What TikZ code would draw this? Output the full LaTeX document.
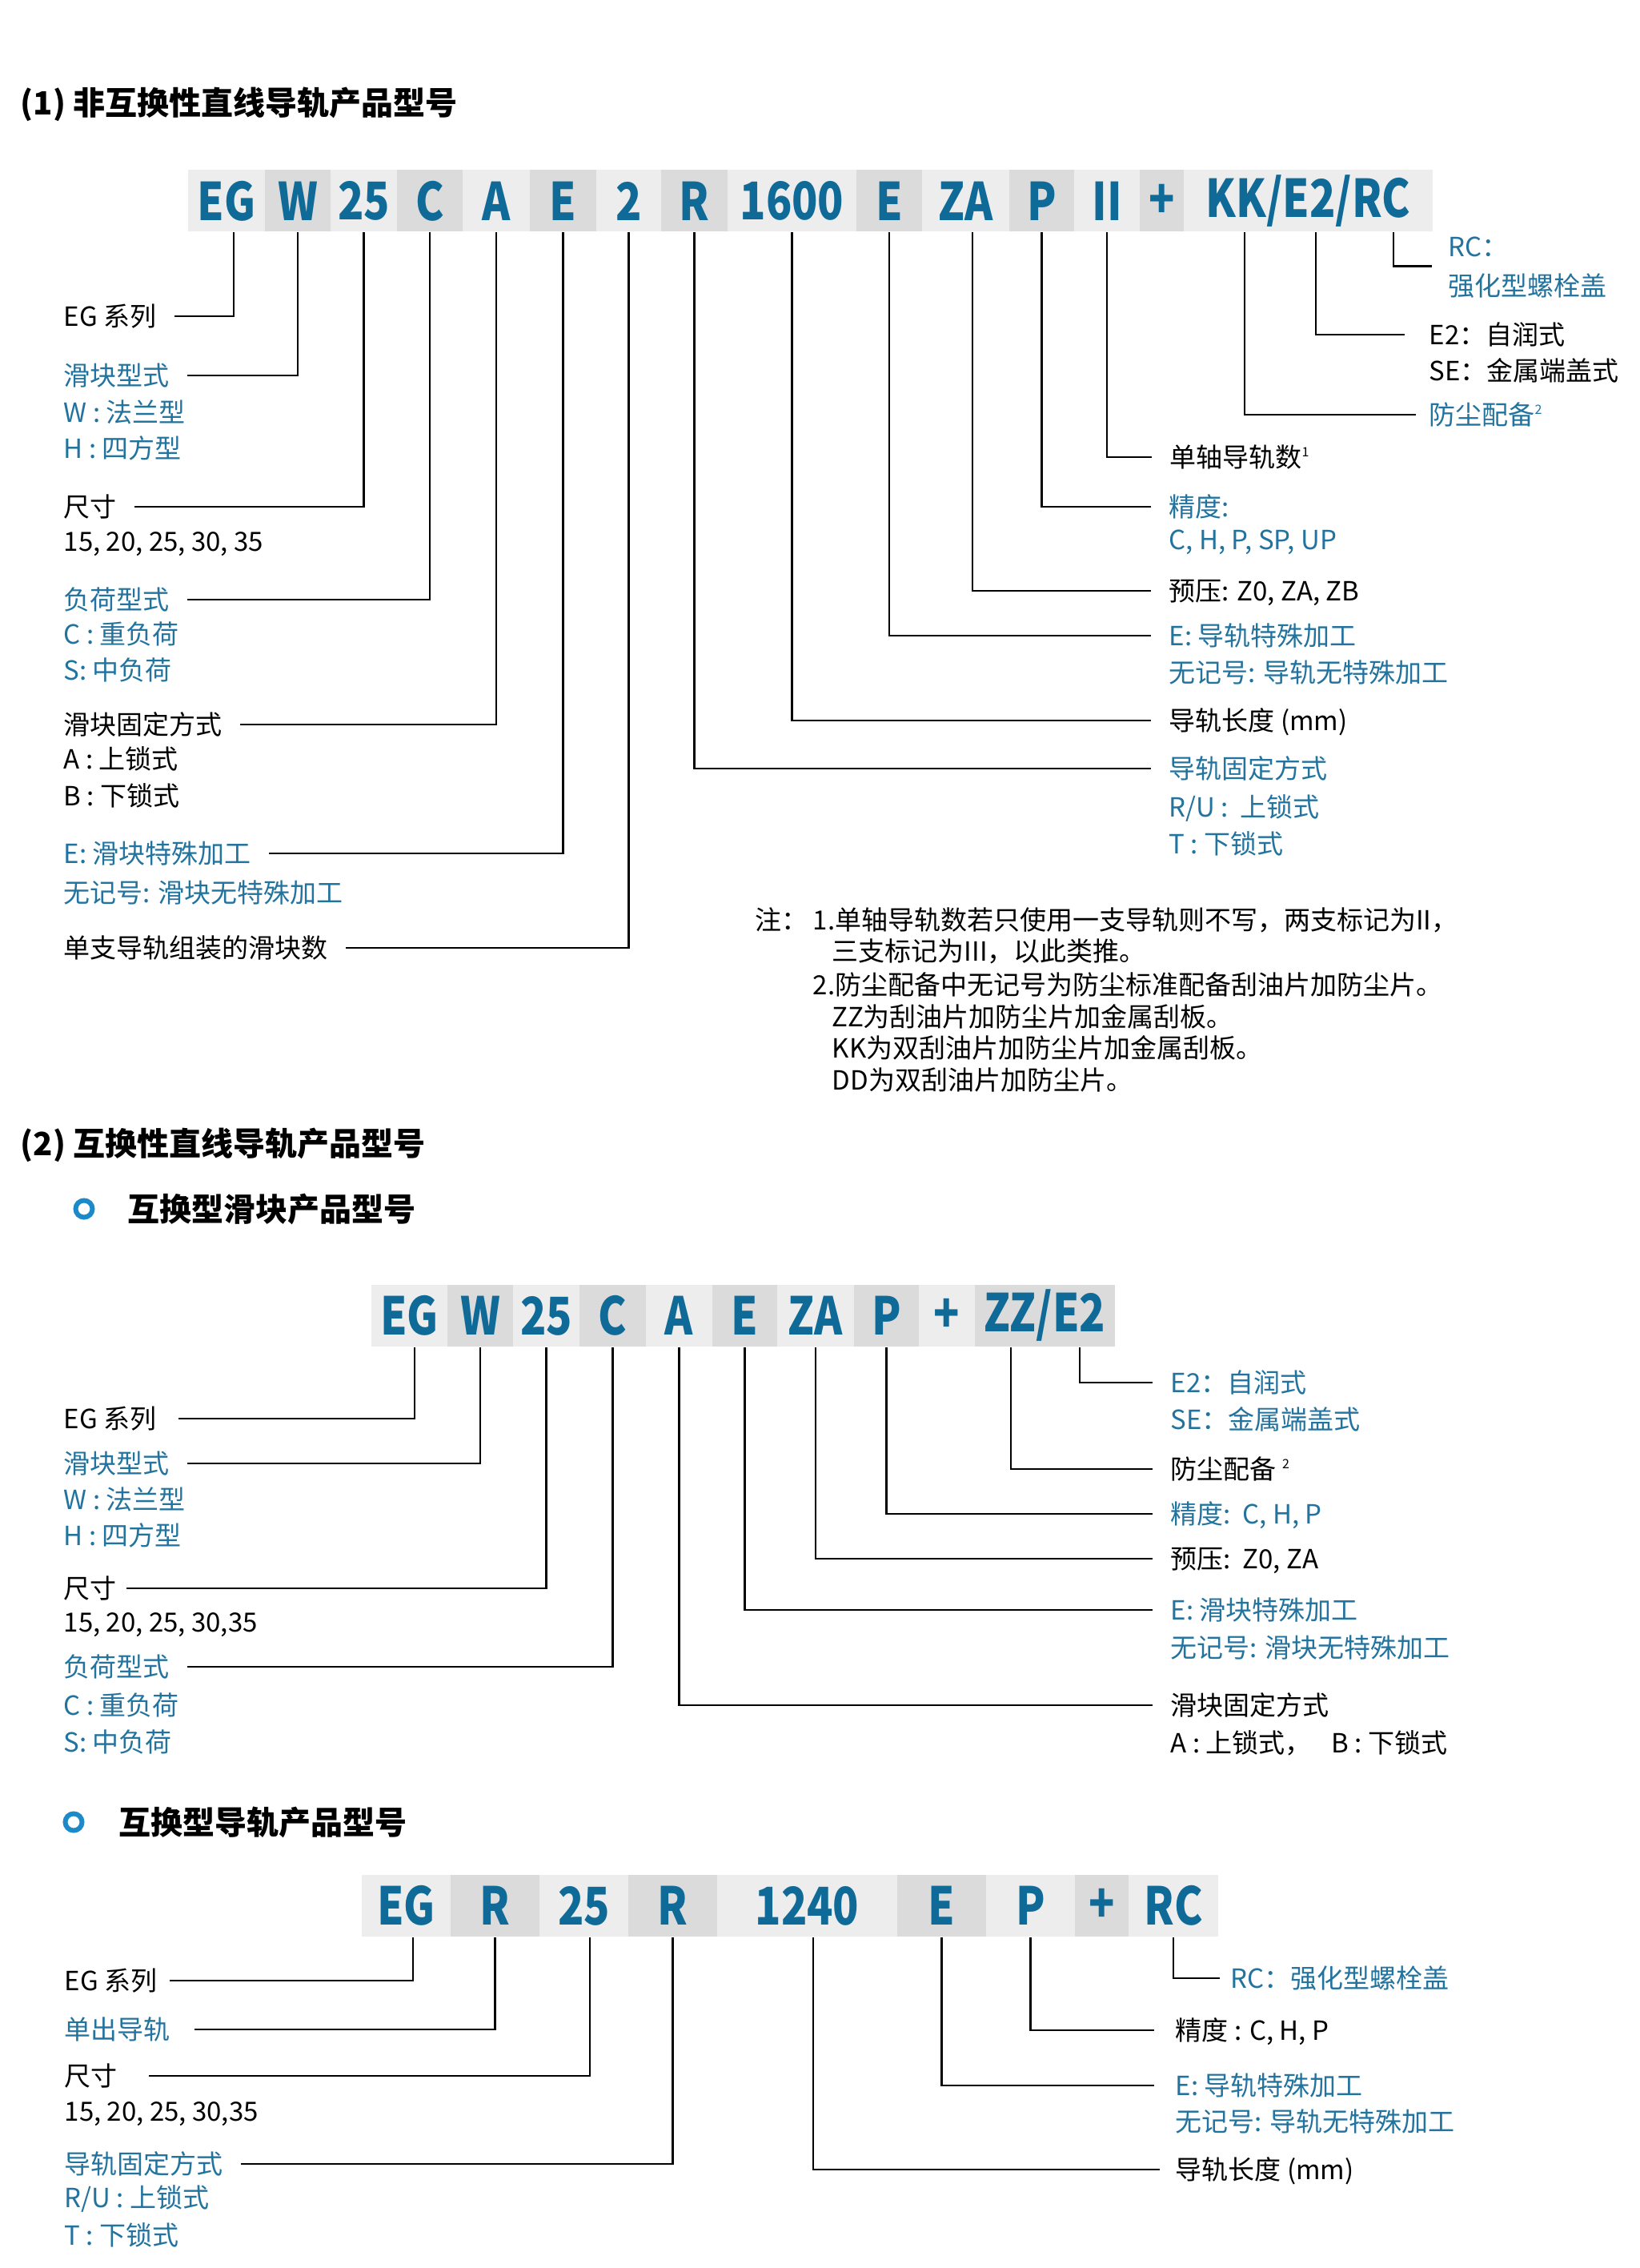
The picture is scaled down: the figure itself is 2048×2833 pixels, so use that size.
\documentclass[tikz,border=0pt]{standalone}
\usepackage{fontspec}
\setmainfont{Noto Sans CJK SC}
\newfontfamily\codefont[FakeStretch=0.82]{Noto Sans CJK SC}
\usepackage{tikz}
\usetikzlibrary{calc}
\definecolor{codeblue}{HTML}{0F6A98}
\definecolor{lblblue}{HTML}{23739F}
\definecolor{seglight}{HTML}{EDEDED}
\definecolor{segdark}{HTML}{DBDBDB}
\definecolor{dotblue}{HTML}{1C8AC9}
\tikzset{
  % --- code strip segments ---
  seglt/.style={fill=seglight, minimum height=7.7mm, inner sep=0pt, text=codeblue,
                font=\codefont\fontsize{6.5mm}{6.5mm}\selectfont\bfseries},
  segdk/.style={seglt, fill=segdark},
  % --- labels (black / blue) ---
  lbl/.style={anchor=west, inner sep=0pt, text height=2.9mm, text depth=0.4mm,
              font=\fontsize{3.3mm}{4mm}\selectfont},
  lblb/.style={lbl, text=lblblue},
  ttl/.style={anchor=west, inner sep=0pt, font=\fontsize{4mm}{4.8mm}\selectfont\bfseries},
  bullet/.style={circle, draw=dotblue, line width=1.7pt, minimum size=2.1mm, inner sep=0pt},
  % --- leader lines from code letter to label ---
  lead/.style={line width=0.65pt, draw=black, shorten >=2.2mm},
}
\newcommand{\supnum}[1]{\raisebox{1.3mm}{\fontsize{1.6mm}{1.6mm}\selectfont #1}}

\begin{document}
\begin{tikzpicture}[x=0.1mm, y=-0.1mm]
  \useasboundingbox[fill=white] (0,0) rectangle (2048,2833);

  % --- (1) non-interchangeable ---
  \node[ttl] (t1) at (25,130) {(1) 非互换性直线导轨产品型号};

  % code strip
  \node[seglt, minimum width=9.6mm]  (b1eg)  at (283,251)    {EG};
  \node[segdk, minimum width=8.2mm]  (b1w)   at (372,251)    {W};
  \node[seglt, minimum width=8.3mm]  (b1sz)  at (454.5,251)  {25};
  \node[segdk, minimum width=8.2mm]  (b1c)   at (537,251)    {C};
  \node[seglt, minimum width=8.4mm]  (b1a)   at (620,251)    {A};
  \node[segdk, minimum width=8.3mm]  (b1e)   at (703.5,251)  {E};
  \node[seglt, minimum width=8.1mm]  (b1n)   at (785.5,251)  {2};
  \node[segdk, minimum width=8.3mm]  (b1r)   at (867.5,251)  {R};
  \node[seglt, minimum width=16.1mm] (b1len) at (989.5,251)  {1600};
  \node[segdk, minimum width=8.2mm]  (b1re)  at (1111,251)   {E};
  \node[seglt, minimum width=10.9mm] (b1pre) at (1206.5,251) {ZA};
  \node[segdk, minimum width=8.1mm]  (b1p)   at (1301.5,251) {P};
  \node[seglt, minimum width=8.2mm]  (b1ii)  at (1383,251)   {II};
  \node[segdk, minimum width=5.5mm]  (b1pl)  at (1451.5,251) {+};
  \node[seglt, minimum width=31.1mm] (b1acc) at (1634.5,251) {KK/E2/RC};

  % left labels
  \node[lbl]  (l1eg)   at (79,395)  {EG 系列};
  \node[lblb] (l1typ)  at (79,469)  {滑块型式};
  \node[lblb] (l1typw) at (79,515)  {W : 法兰型};
  \node[lblb] (l1typh) at (79,560)  {H : 四方型};
  \node[lbl]  (l1sz)   at (79,633)  {尺寸};
  \node[lbl]  (l1szv)  at (79,676)  {15, 20, 25, 30, 35};
  \node[lblb] (l1ld)   at (79,749)  {负荷型式};
  \node[lblb] (l1ldc)  at (79,792)  {C : 重负荷};
  \node[lblb] (l1lds)  at (79,837)  {S: 中负荷};
  \node[lbl]  (l1fix)  at (79,905)  {滑块固定方式};
  \node[lbl]  (l1fixa) at (79,948)  {A : 上锁式};
  \node[lbl]  (l1fixb) at (79,994)  {B : 下锁式};
  \node[lblb] (l1sp)   at (79,1066) {E: 滑块特殊加工};
  \node[lblb] (l1spn)  at (79,1115) {无记号: 滑块无特殊加工};
  \node[lbl]  (l1cnt)  at (79,1184) {单支导轨组装的滑块数};

  \draw[lead] ([xshift=0.9mm]b1eg.south) |- (l1eg.east);
  \draw[lead] (b1w.south) |- (l1typ.east);
  \draw[lead] (b1sz.south) |- (l1sz.east);
  \draw[lead] (b1c.south) |- (l1ld.east);
  \draw[lead] (b1a.south) |- (l1fix.east);
  \draw[lead] (b1e.south) |- (l1sp.east);
  \draw[lead] (b1n.south) |- (l1cnt.east);

  % right labels
  \node[lblb] (r1rc)   at (1809,308)  {RC：};
  \node[lblb] (r1rcb)  at (1809,357)  {强化型螺栓盖};
  \node[lbl]  (r1ec)   at (1785,418)  {E2：自润式};
  \node[lbl]  (r1ecs)  at (1785,463)  {SE：金属端盖式};
  \node[lblb] (r1ds)   at (1785,518)  {防尘配备\supnum{2}};
  \node[lbl]  (r1rail) at (1461,571)  {单轴导轨数\supnum{1}};
  \node[lblb] (r1acc)  at (1460,633)  {精度:};
  \node[lblb] (r1accv) at (1460,674)  {C, H, P, SP, UP};
  \node[lbl]  (r1pre)  at (1460,738)  {预压: Z0, ZA, ZB};
  \node[lblb] (r1sp)   at (1460,794)  {E: 导轨特殊加工};
  \node[lblb] (r1spn)  at (1460,840)  {无记号: 导轨无特殊加工};
  \node[lbl]  (r1len)  at (1460,900)  {导轨长度 (mm)};
  \node[lblb] (r1fix)  at (1460,960)  {导轨固定方式};
  \node[lblb] (r1fixr) at (1460,1008) {R/U :~~上锁式};
  \node[lblb] (r1fixt) at (1460,1054) {T : 下锁式};

  \draw[lead, shorten >=2mm] ([xshift=10.65mm]b1acc.south) |- ($(r1rc.west)!0.5!(r1rcb.west)$);
  \draw[lead, shorten >=3mm] ([xshift=0.95mm]b1acc.south) |- (r1ec.west);
  \draw[lead, shorten >=1.6mm] ([xshift=-7.95mm]b1acc.south) |- (r1ds.west);
  \draw[lead] (b1ii.south) |- (r1rail.west);
  \draw[lead] (b1p.south) |- (r1acc.west);
  \draw[lead] ([xshift=0.85mm]b1pre.south) |- (r1pre.west);
  \draw[lead] (b1re.south) |- (r1sp.west);
  \draw[lead] (b1len.south) |- (r1len.west);
  \draw[lead] (b1r.south) |- (r1fix.west);

  % notes
  \node[lbl] (nz)  at (943,1149)  {注：};
  \node[lbl] (n1)  at (1015,1149) {1.单轴导轨数若只使用一支导轨则不写，两支标记为II，};
  \node[lbl] (n1b) at (1039,1188) {三支标记为III，以此类推。};
  \node[lbl] (n2)  at (1015,1230) {2.防尘配备中无记号为防尘标准配备刮油片加防尘片。};
  \node[lbl] (n2b) at (1039,1270) {ZZ为刮油片加防尘片加金属刮板。};
  \node[lbl] (n2c) at (1039,1309) {KK为双刮油片加防尘片加金属刮板。};
  \node[lbl] (n2d) at (1039,1349) {DD为双刮油片加防尘片。};

  % --- (2) interchangeable: block ---
  \node[ttl] (t2) at (25,1430) {(2) 互换性直线导轨产品型号};
  \node[bullet] (d1) at (105,1510) {};
  \node[ttl] (s1) at (159,1510) {互换型滑块产品型号};

  \node[seglt, minimum width=9.5mm]  (b2eg)  at (511.5,1643.5)  {EG};
  \node[segdk, minimum width=8.2mm]  (b2w)   at (600,1643.5)    {W};
  \node[seglt, minimum width=8.3mm]  (b2sz)  at (682.5,1643.5)  {25};
  \node[segdk, minimum width=8.3mm]  (b2c)   at (765.5,1643.5)  {C};
  \node[seglt, minimum width=8.3mm]  (b2a)   at (848.5,1643.5)  {A};
  \node[segdk, minimum width=8.1mm]  (b2e)   at (930.5,1643.5)  {E};
  \node[seglt, minimum width=9.6mm]  (b2pre) at (1019,1643.5)   {ZA};
  \node[segdk, minimum width=8.1mm]  (b2p)   at (1107.5,1643.5) {P};
  \node[seglt, minimum width=7mm]    (b2pl)  at (1183,1643.5)   {+};
  \node[segdk, minimum width=17.5mm] (b2acc) at (1305.5,1643.5) {ZZ/E2};

  \node[lbl]  (l2eg)   at (79,1772) {EG 系列};
  \node[lblb] (l2typ)  at (79,1828) {滑块型式};
  \node[lblb] (l2typw) at (79,1873) {W : 法兰型};
  \node[lblb] (l2typh) at (79,1918) {H : 四方型};
  \node[lbl]  (l2sz)   at (79,1984) {尺寸};
  \node[lbl]  (l2szv)  at (79,2026) {15, 20, 25, 30,35};
  \node[lblb] (l2ld)   at (79,2082) {负荷型式};
  \node[lblb] (l2ldc)  at (79,2130) {C : 重负荷};
  \node[lblb] (l2lds)  at (79,2176) {S: 中负荷};

  \draw[lead, shorten >=2.7mm] ([xshift=0.65mm]b2eg.south) |- (l2eg.east);
  \draw[lead] (b2w.south) |- (l2typ.east);
  \draw[lead, shorten >=1.2mm] (b2sz.south) |- (l2sz.east);
  \draw[lead] (b2c.south) |- (l2ld.east);

  \node[lblb] (r2ec)   at (1462,1727) {E2：自润式};
  \node[lblb] (r2ecs)  at (1462,1773) {SE：金属端盖式};
  \node[lbl]  (r2ds)   at (1462,1835) {防尘配备 \supnum{2}};
  \node[lblb] (r2acc)  at (1462,1891) {精度:~~C, H, P};
  \node[lbl]  (r2pre)  at (1462,1947) {预压:~~Z0, ZA};
  \node[lblb] (r2sp)   at (1462,2011) {E: 滑块特殊加工};
  \node[lblb] (r2spn)  at (1462,2058) {无记号: 滑块无特殊加工};
  \node[lbl]  (r2fix)  at (1462,2130) {滑块固定方式};
  \node[lbl]  (r2fixv) at (1462,2177) {A : 上锁式，\hspace{2.5mm}B : 下锁式};

  \draw[lead] ([xshift=4.35mm]b2acc.south) |- (r2ec.west);
  \draw[lead] ([xshift=-4.25mm]b2acc.south) |- (r2ds.west);
  \draw[lead] (b2p.south) |- (r2acc.west);
  \draw[lead] (b2pre.south) |- (r2pre.west);
  \draw[lead] (b2e.south) |- (r2sp.west);
  \draw[lead] (b2a.south) |- (r2fix.west);

  % --- (2) interchangeable: rail ---
  \node[bullet] (d2) at (92,2276) {};
  \node[ttl] (s2) at (148,2276) {互换型导轨产品型号};

  \node[seglt, minimum width=11.1mm] (b3eg)  at (507.5,2380.5)  {EG};
  \node[segdk, minimum width=11.1mm] (b3r)   at (618.5,2380.5)  {R};
  \node[seglt, minimum width=11.1mm] (b3sz)  at (729.5,2380.5)  {25};
  \node[segdk, minimum width=11.1mm] (b3fx)  at (840.5,2380.5)  {R};
  \node[seglt, minimum width=22.5mm] (b3len) at (1008.5,2380.5) {1240};
  \node[segdk, minimum width=11.1mm] (b3e)   at (1176.5,2380.5) {E};
  \node[seglt, minimum width=11.1mm] (b3p)   at (1287.5,2380.5) {P};
  \node[segdk, minimum width=6.7mm]  (b3pl)  at (1376.5,2380.5) {+};
  \node[seglt, minimum width=11.2mm] (b3rc)  at (1466,2380.5)   {RC};

  \node[lbl]  (l3eg)   at (80,2474) {EG 系列};
  \node[lblb] (l3typ)  at (80,2535) {单出导轨};
  \node[lbl]  (l3sz)   at (80,2593) {尺寸};
  \node[lbl]  (l3szv)  at (80,2637) {15, 20, 25, 30,35};
  \node[lblb] (l3fix)  at (80,2703) {导轨固定方式};
  \node[lblb] (l3fixr) at (80,2745) {R/U : 上锁式};
  \node[lblb] (l3fixt) at (80,2792) {T : 下锁式};

  \draw[lead, shorten >=1.5mm] ([xshift=0.85mm]b3eg.south) |- (l3eg.east);
  \draw[lead, shorten >=3mm] (b3r.south) |- (l3typ.east);
  \draw[lead, shorten >=3.9mm] ([xshift=0.75mm]b3sz.south) |- (l3sz.east);
  \draw[lead] (b3fx.south) |- (l3fix.east);

  \node[lblb] (r3rc)  at (1537,2471) {RC：强化型螺栓盖};
  \node[lbl]  (r3acc) at (1468,2536) {精度 : C, H, P};
  \node[lblb] (r3sp)  at (1468,2605) {E: 导轨特殊加工};
  \node[lblb] (r3spn) at (1468,2650) {无记号: 导轨无特殊加工};
  \node[lbl]  (r3len) at (1468,2710) {导轨长度 (mm)};

  \draw[lead, shorten >=1.3mm] (b3rc.south) |- (r3rc.west);
  \draw[lead, shorten >=2.6mm] (b3p.south) |- (r3acc.west);
  \draw[lead, shorten >=2.6mm] (b3e.south) |- (r3sp.west);
  \draw[lead, shorten >=1.9mm] ([xshift=0.75mm]b3len.south) |- (r3len.west);
\end{tikzpicture}
\end{document}
